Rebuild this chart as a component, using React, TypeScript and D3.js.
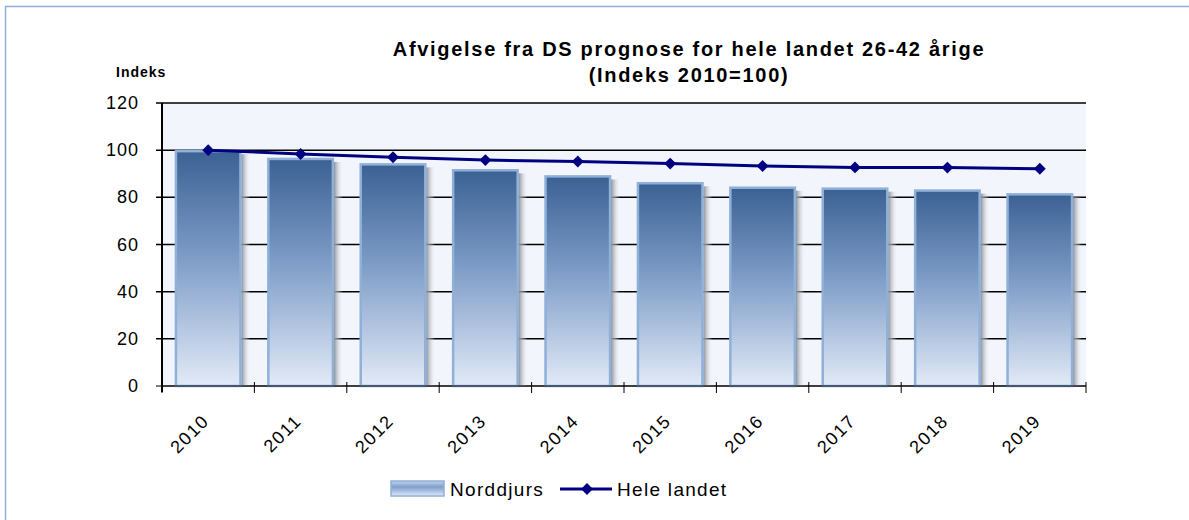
import React from 'react';
import * as d3 from 'd3';

const years = ['2010', '2011', '2012', '2013', '2014', '2015', '2016', '2017', '2018', '2019'];
const norddjurs = [100, 96.7, 94.4, 91.9, 89.3, 86.4, 84.5, 84.1, 83.3, 81.7];
const heleLandet = [100, 98.4, 97.0, 95.8, 95.2, 94.3, 93.3, 92.7, 92.6, 92.1];
const yTicks = [0, 20, 40, 60, 80, 100, 120];

const W = 1189;
const H = 520;
const left = 162;
const right = 1086;
const top = 103;
const bottom = 386;

const App = () => {
  const x = d3.scaleBand().domain(years).range([left, right]).paddingInner(0.28).paddingOuter(0.14);
  const xOuter = d3.scaleBand().domain(years).range([left, right]);
  const y = d3.scaleLinear().domain([0, 120]).range([bottom, top]);
  const line = d3.line<number>()
    .x((_, i) => xOuter(years[i])! + xOuter.bandwidth() / 2)
    .y(d => y(d));
  const font = 'Liberation Sans, Arial, sans-serif';
  const diamond = d3.symbol().type(d3.symbolDiamond2).size(90)()!;

  return (
    <svg width={W} height={H} style={{ position: 'absolute', left: 0, top: 0 }} fontFamily={font}>
      <defs>
        <linearGradient id="barGrad" x1="0" y1="0" x2="0" y2="1">
          <stop offset="0" stopColor="#3b6193" />
          <stop offset="0.45" stopColor="#7d9cc7" />
          <stop offset="1" stopColor="#e2eaf7" />
        </linearGradient>
        <linearGradient id="shadowGrad" x1="0" y1="0" x2="1" y2="0">
          <stop offset="0" stopColor="#8a8f96" />
          <stop offset="1" stopColor="#f2f5fb" stopOpacity="0" />
        </linearGradient>
        <linearGradient id="legGrad" x1="0" y1="0" x2="0" y2="1">
          <stop offset="0" stopColor="#c5d4ec" />
          <stop offset="0.4" stopColor="#7f9fcb" />
          <stop offset="1" stopColor="#dfe8f6" />
        </linearGradient>
      </defs>
      <rect x={5.5} y={6.5} width={W + 20} height={H + 20} fill="none" stroke="#8eb0da" strokeWidth={1.5} />

      <text x={689} y={56} textAnchor="middle" fontSize={20} fontWeight="bold" letterSpacing={1.7}>
        Afvigelse fra DS prognose for hele landet 26-42 årige
      </text>
      <text x={689} y={82} textAnchor="middle" fontSize={20} fontWeight="bold" letterSpacing={1.7}>
        (Indeks 2010=100)
      </text>
      <text x={116} y={77} fontSize={14} fontWeight="bold" letterSpacing={1}>Indeks</text>

      <rect x={left} y={top} width={right - left} height={bottom - top} fill="#f2f5fb" />

      {yTicks.map(t => (
        <g key={t}>
          <line x1={156} x2={right} y1={y(t)} y2={y(t)} stroke="#000" strokeWidth={t === 0 ? 1 : 1.5} />
          <text x={139} y={y(t) + 6} textAnchor="end" fontSize={18} letterSpacing={1}>{t}</text>
        </g>
      ))}

      {norddjurs.map((v, i) => {
        const bx = x(years[i])!;
        const bw = x.bandwidth();
        return (
          <g key={years[i]}>
            <rect x={bx + bw} y={y(v) + 4} width={9} height={bottom - y(v) - 4} fill="url(#shadowGrad)" />
            <rect x={bx + 1} y={y(v) + 1} width={bw - 2} height={bottom - y(v) - 1} fill="url(#barGrad)" stroke="#8fb0d8" strokeWidth={2.5} />
          </g>
        );
      })}

      <line x1={left} x2={left} y1={top} y2={bottom + 6} stroke="#000" strokeWidth={2} />
      <line x1={left} x2={right} y1={bottom} y2={bottom} stroke="#000" strokeWidth={1} />
      {years.concat(['end']).map((yr, i) => {
        const tx = left + i * xOuter.bandwidth();
        return <line key={yr} x1={tx} x2={tx} y1={bottom - 4} y2={bottom + 7} stroke="#000" strokeWidth={1} />;
      })}

      <path d={line(heleLandet)!} fill="none" stroke="#000080" strokeWidth={3} />
      {heleLandet.map((v, i) => (
        <path
          key={years[i]}
          d={diamond}
          transform={`translate(${xOuter(years[i])! + xOuter.bandwidth() / 2},${y(v)})`}
          fill="#000080"
        />
      ))}

      {years.map(yr => {
        const cx = xOuter(yr)! + xOuter.bandwidth() / 2 + 2;
        return (
          <text key={yr} transform={`translate(${cx},${422}) rotate(-45)`} textAnchor="end" fontSize={18} letterSpacing={1.5}>
            {yr}
          </text>
        );
      })}

      <rect x={391} y={481} width={53} height={15} fill="url(#legGrad)" stroke="#8fb0d8" strokeWidth={1.5} />
      <text x={450} y={496} fontSize={19} letterSpacing={1.3}>Norddjurs</text>
      <line x1={560} x2={612} y1={489} y2={489} stroke="#000080" strokeWidth={3} />
      <path d={diamond} transform="translate(587,489)" fill="#000080" />
      <text x={617} y={496} fontSize={19} letterSpacing={1.3}>Hele landet</text>
    </svg>
  );
};

export default App;
